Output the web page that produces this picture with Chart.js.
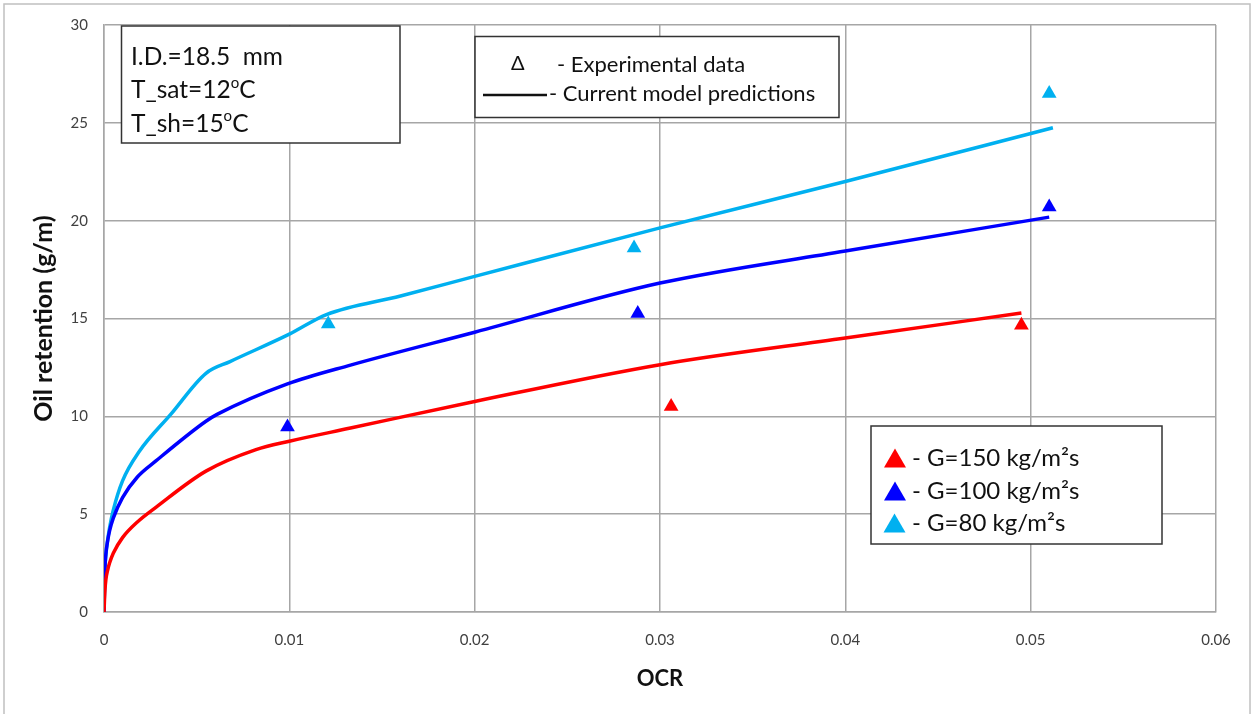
<!DOCTYPE html>
<html>
<head>
<meta charset="utf-8">
<title>Oil retention vs OCR</title>
<script src="https://cdn.jsdelivr.net/npm/chart.js@4.4.0/dist/chart.umd.min.js"></script>
<style>
  html, body { margin: 0; padding: 0; background: #fff; }
  #wrap { width: 1254px; height: 714px; }
</style>
</head>
<body>
<div id="wrap"><canvas id="oilChart" width="1254" height="714"></canvas></div>
<script>
  "use strict";

  // axis ticks
  var xTicks = [0, 0.01, 0.02, 0.03, 0.04, 0.05, 0.06];
  var yTicks = [0, 5, 10, 15, 20, 25, 30];

  // model predictions (OCR, g/m)
  var modelOcr150 = [0, 0.00005, 0.0001, 0.0002, 0.0003, 0.0005, 0.001, 0.0018, 0.0028, 0.0055, 0.0082, 0.01, 0.0133, 0.02, 0.03, 0.04, 0.0495];
  var modelRet150 = [0, 1.1, 1.65, 2.15, 2.5, 3.0, 3.8, 4.6, 5.35, 7.2, 8.3, 8.73, 9.4, 10.76, 12.64, 14.0, 15.28];

  var modelOcr100 = [0, 0.00005, 0.0001, 0.0002, 0.0003, 0.0005, 0.001, 0.0018, 0.0028, 0.0055, 0.0061, 0.0099, 0.0133, 0.02, 0.03, 0.04, 0.051];
  var modelRet100 = [0, 2.2, 2.95, 3.65, 4.15, 4.8, 5.85, 6.9, 7.72, 9.75, 10.1, 11.66, 12.62, 14.3, 16.81, 18.45, 20.18];

  var modelOcr80 = [0, 0.00005, 0.0001, 0.0002, 0.0003, 0.0005, 0.001, 0.0019, 0.0036, 0.0055, 0.0068, 0.01, 0.012, 0.016, 0.02, 0.03, 0.04, 0.0512];
  var modelRet80 = [0, 2.2, 2.9, 3.7, 4.3, 5.2, 6.7, 8.2, 10.1, 12.2, 12.8, 14.2, 15.2, 16.15, 17.15, 19.63, 22.0, 24.75];

  // experimental data
  var expOcr150 = [0.0306, 0.0495];
  var expRet150 = [10.5, 14.65];

  var expOcr100 = [0.0099, 0.0288, 0.0510];
  var expRet100 = [9.45, 15.25, 20.7];

  var expOcr80 = [0.0121, 0.0286, 0.0510];
  var expRet80 = [14.72, 18.6, 26.5];

  var RED = '#ff0000';
  var BLUE = '#0000ff';
  var CYAN = '#00b0f0';
  var GRID = '#a6a6a6';
  var FONT = 'Lato, "Open Sans", sans-serif';

  function toPoints(xs, ys) {
    return xs.map(function (x, i) { return { x: x, y: ys[i] }; });
  }

  function lineSet(label, xs, ys, color) {
    return {
      label: label,
      data: toPoints(xs, ys),
      showLine: true,
      borderColor: color,
      backgroundColor: color,
      borderWidth: 3.5,
      pointRadius: 0,
      cubicInterpolationMode: 'monotone',
      order: 2
    };
  }

  function markerSet(label, xs, ys, color) {
    return {
      label: label,
      data: toPoints(xs, ys),
      showLine: false,
      pointStyle: 'triangle',
      pointRadius: 8.5,
      pointBorderWidth: 0,
      backgroundColor: color,
      borderColor: color,
      order: 1
    };
  }

  // white page with a thin frame
  var framePlugin = {
    id: 'frame',
    beforeDraw: function (chart) {
      var ctx = chart.ctx;
      ctx.save();
      ctx.fillStyle = '#fff';
      ctx.fillRect(0, 0, chart.width, chart.height);
      ctx.strokeStyle = '#c0c0c0';
      ctx.lineWidth = 1.5;
      ctx.strokeRect(4, 4, 1246, chart.height + 10);
      ctx.restore();
    }
  };

  function drawBox(ctx, x, y, w, h) {
    ctx.save();
    ctx.fillStyle = '#fff';
    ctx.fillRect(x, y, w, h);
    ctx.strokeStyle = '#333';
    ctx.lineWidth = 1.5;
    ctx.strokeRect(x, y, w, h);
    ctx.restore();
  }

  // text pieces, some of them raised and smaller
  function drawRuns(ctx, x, y, runs, size) {
    ctx.save();
    ctx.fillStyle = '#111';
    ctx.textBaseline = 'middle';
    ctx.textAlign = 'left';
    runs.forEach(function (r) {
      var s = r.sup ? Math.round(size * 0.62) : size;
      ctx.font = s + 'px ' + FONT;
      ctx.fillText(r.t, x, r.sup ? y - size * 0.3 : y);
      x += ctx.measureText(r.t).width;
    });
    ctx.restore();
  }

  function drawTriangle(ctx, cx, cy, w, h, color) {
    ctx.save();
    ctx.fillStyle = color;
    ctx.beginPath();
    ctx.moveTo(cx, cy - h / 2);
    ctx.lineTo(cx + w / 2, cy + h / 2);
    ctx.lineTo(cx - w / 2, cy + h / 2);
    ctx.closePath();
    ctx.fill();
    ctx.restore();
  }

  // text boxes on top of the plot
  var notesPlugin = {
    id: 'notes',
    afterDatasetsDraw: function (chart) {
      var ctx = chart.ctx;

      // test conditions
      drawBox(ctx, 121.5, 26, 278.5, 117);
      drawRuns(ctx, 131, 57, [{ t: 'I.D.=18.5  mm' }], 24.5);
      drawRuns(ctx, 131, 90.5, [{ t: 'T_sat=12' }, { t: 'o', sup: true }, { t: 'C' }], 24.5);
      drawRuns(ctx, 131, 124, [{ t: 'T_sh=15' }, { t: 'o', sup: true }, { t: 'C' }], 24.5);

      // symbol key
      drawBox(ctx, 475, 36.5, 364, 81);
      drawRuns(ctx, 511, 64, [{ t: '\u0394' }], 20);
      drawRuns(ctx, 557, 64.5, [{ t: '- Experimental data' }], 22);
      ctx.save();
      ctx.strokeStyle = '#111';
      ctx.lineWidth = 2.5;
      ctx.beginPath();
      ctx.moveTo(483, 95);
      ctx.lineTo(547, 95);
      ctx.stroke();
      ctx.restore();
      drawRuns(ctx, 549, 93.5, [{ t: '- Current model predictions' }], 22);

      // mass flux key
      drawBox(ctx, 871, 426, 291, 118);
      drawTriangle(ctx, 895, 458, 22, 19, RED);
      drawTriangle(ctx, 895, 491, 22, 19, BLUE);
      drawTriangle(ctx, 894.5, 523, 22, 19, CYAN);
      drawRuns(ctx, 912, 458, [{ t: '- G=150 kg/m\u00b2s' }], 24);
      drawRuns(ctx, 912, 491, [{ t: '- G=100 kg/m\u00b2s' }], 24);
      drawRuns(ctx, 912, 523, [{ t: '- G=80 kg/m\u00b2s' }], 24);
    }
  };

  var ctx = document.getElementById('oilChart').getContext('2d');
  var oilChart = new Chart(ctx, {
    type: 'scatter',
    data: {
      datasets: [
        lineSet('Model G=150', modelOcr150, modelRet150, RED),
        lineSet('Model G=100', modelOcr100, modelRet100, BLUE),
        lineSet('Model G=80', modelOcr80, modelRet80, CYAN),
        markerSet('G=150 kg/m\u00b2s', expOcr150, expRet150, RED),
        markerSet('G=100 kg/m\u00b2s', expOcr100, expRet100, BLUE),
        markerSet('G=80 kg/m\u00b2s', expOcr80, expRet80, CYAN)
      ]
    },
    options: {
      responsive: false,
      animation: false,
      devicePixelRatio: 1,
      layout: { padding: { top: 21, right: 38, left: 0, bottom: 0 } },
      plugins: {
        legend: { display: false },
        tooltip: { enabled: false }
      },
      scales: {
        x: {
          type: 'linear',
          min: xTicks[0],
          max: xTicks[xTicks.length - 1],
          afterFit: function (scale) { scale.height = 102; },
          afterBuildTicks: function (scale) {
            scale.ticks = xTicks.map(function (v) { return { value: v }; });
          },
          ticks: {
            color: '#404040',
            font: { family: FONT, size: 15 },
            padding: 19,
            maxRotation: 0,
            callback: function (v) { return String(v); }
          },
          grid: { color: GRID, lineWidth: 1.5, drawTicks: false },
          border: { color: GRID, width: 1.5 },
          title: {
            display: true,
            text: 'OCR',
            color: '#111',
            font: { family: FONT, size: 22, weight: 'bold' },
            padding: { top: 0, bottom: 22 }
          }
        },
        y: {
          type: 'linear',
          min: yTicks[0],
          max: yTicks[yTicks.length - 1],
          afterFit: function (scale) { scale.width = 104; },
          afterBuildTicks: function (scale) {
            scale.ticks = yTicks.map(function (v) { return { value: v }; });
          },
          ticks: {
            color: '#404040',
            font: { family: FONT, size: 15 },
            padding: 16
          },
          grid: { color: GRID, lineWidth: 1.5, drawTicks: false },
          border: { color: GRID, width: 1.5 },
          title: {
            display: true,
            text: 'Oil retention (g/m)',
            color: '#111',
            font: { family: FONT, size: 25, weight: 'bold' },
            padding: { top: 29, bottom: 0 }
          }
        }
      }
    },
    plugins: [framePlugin, notesPlugin]
  });
</script>
</body>
</html>
